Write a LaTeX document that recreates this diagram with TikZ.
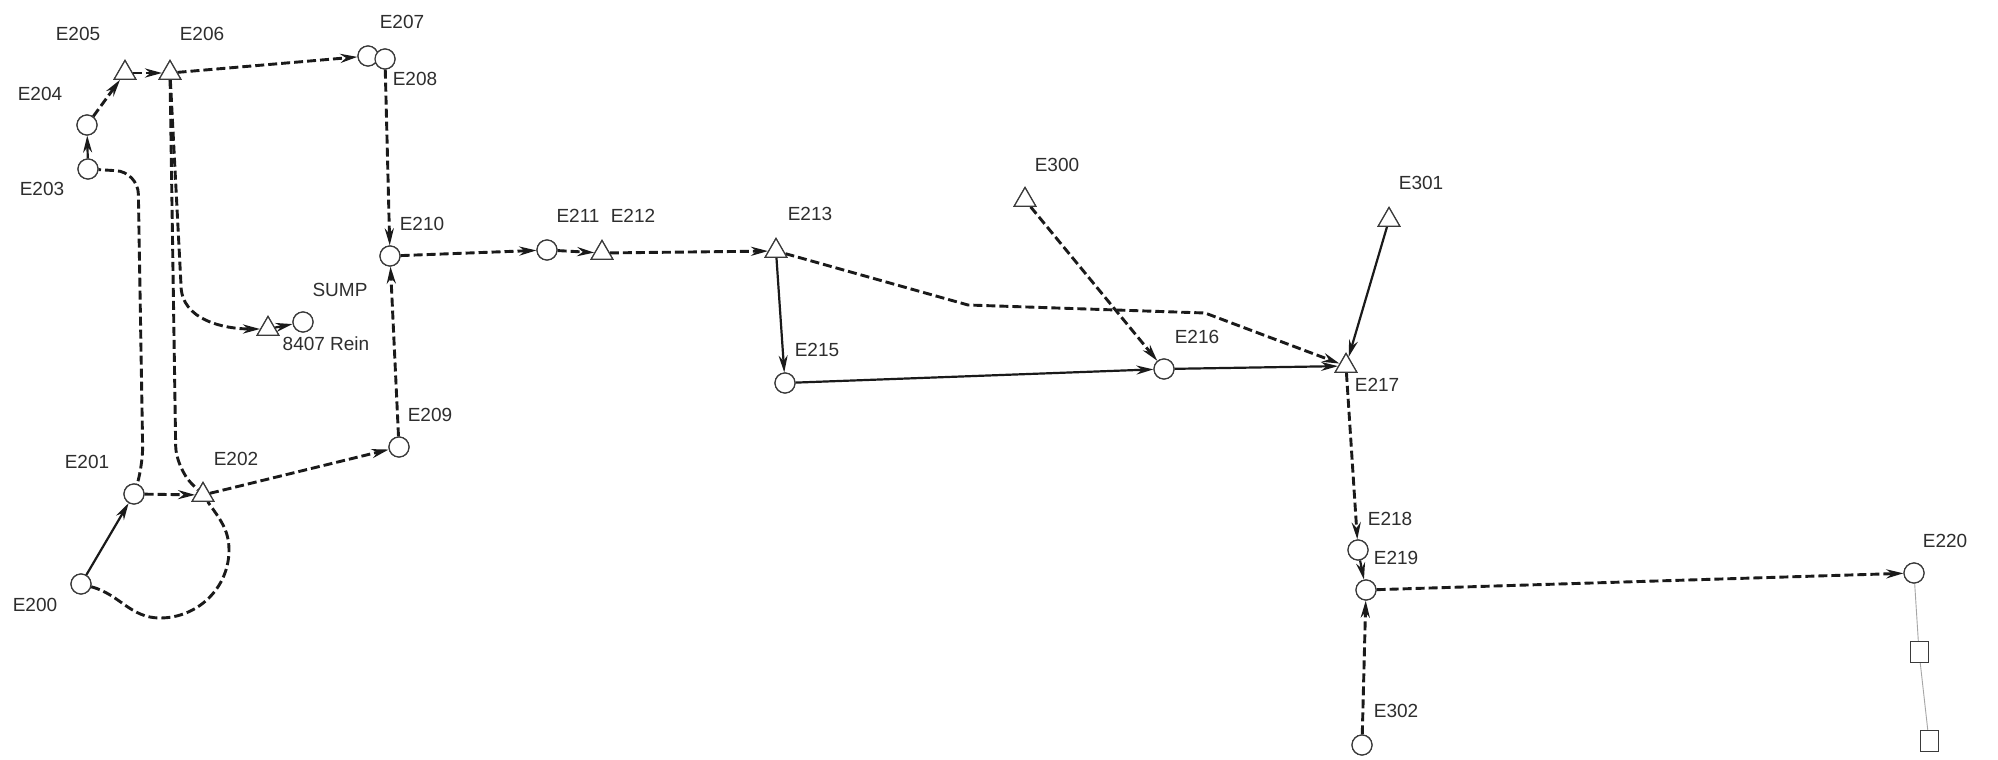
\documentclass[tikz,border=0pt]{standalone}
\usepackage{fontspec}
\setmainfont{Liberation Sans}
\usetikzlibrary{arrows.meta,shapes.geometric}
\definecolor{ink}{HTML}{1A1A1A}
\definecolor{outl}{HTML}{3A3A3A}
\definecolor{txt}{HTML}{2E2E2E}
\begin{document}
\begin{tikzpicture}[x=1pt,y=-1pt,
  circ/.style={circle,draw=outl,line width=1.2pt,minimum size=20pt,inner sep=0pt,fill=white},
  tri/.style={regular polygon,regular polygon sides=3,draw=outl,line width=1.2pt,minimum size=25pt,inner sep=0pt,fill=white},
  sq/.style={rectangle,draw=outl,line width=0.9pt,minimum width=18pt,minimum height=21pt,inner sep=0pt,fill=white},
  lab/.style={text=txt,font=\fontsize{19pt}{21pt}\selectfont,inner sep=0pt},
  dl/.style={draw=ink,line width=2.9pt,dash pattern=on 9pt off 4pt},
  sl/.style={draw=ink,line width=2.2pt},
  arr/.style={-{Stealth[length=17pt,width=9pt]}},
  thin/.style={draw=gray!70,line width=0.9pt}
]
\useasboundingbox (0,0) rectangle (1998,760);
\fill[white] (0,0) rectangle (1998,760);

\coordinate (cE200) at (81,584);
\coordinate (cE201) at (134,494);
\coordinate (cE202) at (203,495);
\coordinate (cE203) at (88,169);
\coordinate (cE204) at (87,125);
\coordinate (cE205) at (125,73);
\coordinate (cE206) at (170,73);
\coordinate (cE207) at (368,56);
\coordinate (cE208) at (385,59);
\coordinate (cE209) at (399,447);
\coordinate (cE210) at (390,256);
\coordinate (cST) at (268,329);
\coordinate (cSC) at (303,322);
\coordinate (cE211) at (547,250);
\coordinate (cE212) at (602,253);
\coordinate (cE213) at (776,251);
\coordinate (cE215) at (785,383);
\coordinate (cE216) at (1164,369);
\coordinate (cE217) at (1346,366);
\coordinate (cE300) at (1025,200);
\coordinate (cE301) at (1389,220);
\coordinate (cE218) at (1358,550);
\coordinate (cE219) at (1366,590);
\coordinate (cE220) at (1914,573);
\coordinate (cSQ1) at (1919,652);
\coordinate (cSQ2) at (1929,741);
\coordinate (cE302) at (1362,745);

\node[circ] (E200) at (cE200) {};
\node[circ] (E201) at (cE201) {};
\node[tri]  (E202) at (cE202) {};
\node[circ] (E203) at (cE203) {};
\node[circ] (E204) at (cE204) {};
\node[tri]  (E205) at (cE205) {};
\node[tri]  (E206) at (cE206) {};
\node[circ] (E207) at (cE207) {};
\node[circ] (E208) at (cE208) {};
\node[circ] (E209) at (cE209) {};
\node[circ] (E210) at (cE210) {};
\node[tri]  (ST) at (cST) {};
\node[circ] (SC) at (cSC) {};
\node[circ] (E211) at (cE211) {};
\node[tri]  (E212) at (cE212) {};
\node[tri]  (E213) at (cE213) {};
\node[circ] (E215) at (cE215) {};
\node[circ] (E216) at (cE216) {};
\node[tri]  (E217) at (cE217) {};
\node[tri]  (E300) at (cE300) {};
\node[tri]  (E301) at (cE301) {};
\node[circ] (E218) at (cE218) {};
\node[circ] (E219) at (cE219) {};
\node[circ] (E220) at (cE220) {};
\node[sq]   (SQ1) at (cSQ1) {};
\node[sq]   (SQ2) at (cSQ2) {};
\node[circ] (E302) at (cE302) {};

\coordinate (p1) at (143,468);
\coordinate (p2) at (138,172);
\coordinate (q1) at (176,468);
\coordinate (r1) at (181,285);
\coordinate (l1) at (160,618);
\coordinate (l2) at (229,550);
\coordinate (t1) at (968,305);
\coordinate (t2) at (1205,313);

\draw[sl,arr] (E200) -- (E201);
\draw[dl,arr] (E201) -- (E202);
\draw[dl,arr] (E202) -- (E209);
\draw[dl,rounded corners=22pt] (E201) -- (p1) -- (p2) -- (E203);
\draw[dl,rounded corners=22pt] (E206) -- (q1) -- (E202);
\draw[dl,arr] (E206) -- (r1) to[out=-90,in=180] (ST);
\draw[dl] (E200) to[out=-15,in=180] (l1) to[out=0,in=-90] (l2) to[out=90,in=-55] (E202);
\draw[sl,arr] (ST) -- (SC);
\draw[sl,arr] (E203) -- (E204);
\draw[dl,arr] (E204) -- (E205);
\draw[dl,arr] (E205) -- (E206);
\draw[dl,arr] (E206) -- (E207);
\draw[dl,arr] (E208) -- (E210);
\draw[dl,arr] (E209) -- (E210);
\draw[dl,arr] (E210) -- (E211);
\draw[dl,arr] (E211) -- (E212);
\draw[dl,arr] (E212) -- (E213);
\draw[sl,arr] (E213) -- (E215);
\draw[sl,arr] (E215) -- (E216);
\draw[sl,arr] (E216) -- (E217);
\draw[dl,arr] (E213) -- (t1) -- (t2) -- (E217);
\draw[dl,arr] (E300) -- (E216);
\draw[sl,arr] (E301) -- (E217);
\draw[dl,arr] (E217) -- (E218);
\draw[sl,arr] (E218) -- (E219);
\draw[dl,arr] (E302) -- (E219);
\draw[dl,arr] (E219) -- (E220);
\draw[thin] (E220) -- (SQ1) -- (SQ2);

\foreach \n in {E200,E201,E203,E204,E207,E208,E209,E210,SC,E211,E215,E216,E218,E219,E220,E302}
  \node[circ] at (c\n) {};
\foreach \n in {E202,E205,E206,ST,E212,E213,E217,E300,E301}
  \node[tri] at (c\n) {};
\node[sq] at (cSQ1) {};
\node[sq] at (cSQ2) {};

\node[lab] (L200) at (35,605) {E200};
\node[lab] (L201) at (87,462) {E201};
\node[lab] (L202) at (236,459) {E202};
\node[lab] (L203) at (42,189) {E203};
\node[lab] (L204) at (40,94) {E204};
\node[lab] (L205) at (78,34) {E205};
\node[lab] (L206) at (202,34) {E206};
\node[lab] (L207) at (402,22) {E207};
\node[lab] (L208) at (415,79) {E208};
\node[lab] (L209) at (430,415) {E209};
\node[lab] (L210) at (422,224) {E210};
\node[lab] (LSUMP) at (340,290) {SUMP};
\node[lab] (LREIN) at (326,344) {8407 Rein};
\node[lab] (L211) at (578,216) {E211};
\node[lab] (L212) at (633,216) {E212};
\node[lab] (L213) at (810,214) {E213};
\node[lab] (L215) at (817,350) {E215};
\node[lab] (L216) at (1197,337) {E216};
\node[lab] (L217) at (1377,385) {E217};
\node[lab] (L300) at (1057,165) {E300};
\node[lab] (L301) at (1421,183) {E301};
\node[lab] (L218) at (1390,519) {E218};
\node[lab] (L219) at (1396,558) {E219};
\node[lab] (L220) at (1945,541) {E220};
\node[lab] (L302) at (1396,711) {E302};
\end{tikzpicture}
\end{document}
